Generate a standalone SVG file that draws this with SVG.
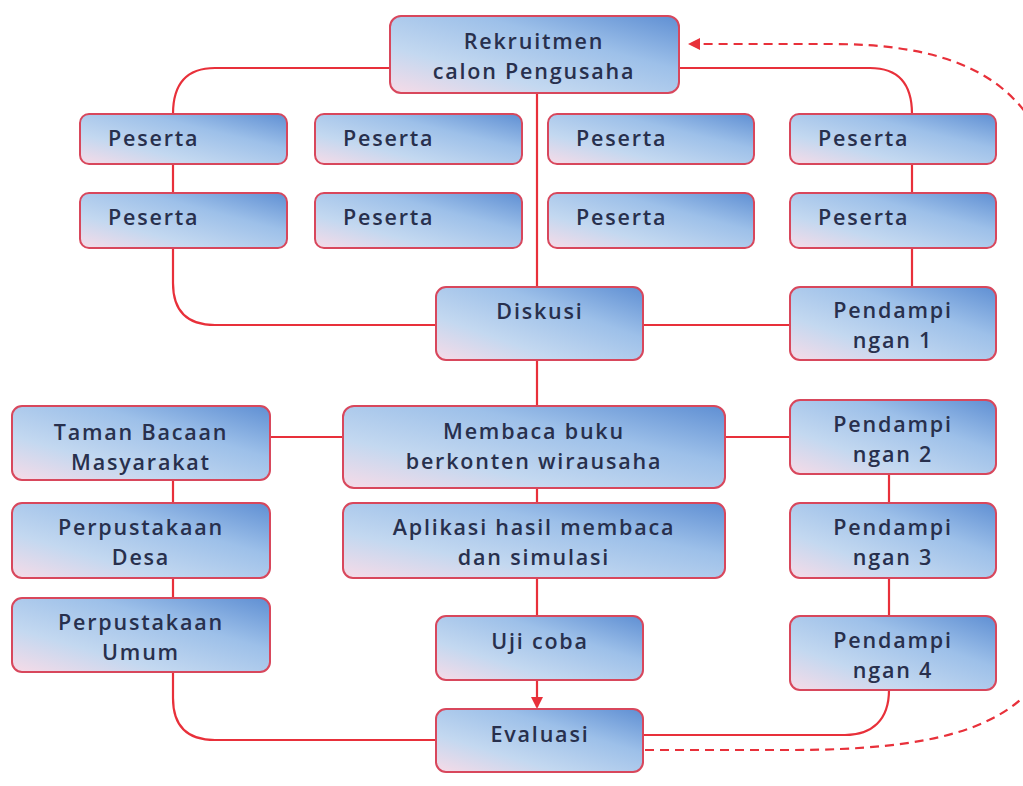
<svg xmlns="http://www.w3.org/2000/svg" width="1023" height="786" viewBox="0 0 1023 786">
<defs>
<linearGradient id="g" x1="0" y1="1" x2="1" y2="0">
<stop offset="0" stop-color="#f7dbe7"/>
<stop offset="0.3" stop-color="#c3d8f0"/>
<stop offset="0.65" stop-color="#9dc0e9"/>
<stop offset="1" stop-color="#5f8fd3"/>
</linearGradient>
<marker id="arr" markerWidth="12" markerHeight="12" refX="10" refY="6" orient="auto" markerUnits="userSpaceOnUse">
<path d="M0,0 L12,6 L0,12 Z" fill="#e8303a"/>
</marker>
</defs>
<style>
.n rect{fill:url(#g);stroke:#d8475c;stroke-width:2}
.n text{font-family:"Open Sans","Liberation Sans",sans-serif;font-weight:600;font-size:21.5px;fill:#28304d;letter-spacing:1.8px}
.c{text-anchor:middle}
.e path{fill:none;stroke:#e8303a;stroke-width:2.2}
.e .d{stroke-dasharray:9 6}
</style>
<rect width="1023" height="786" fill="#ffffff"/>
<g class="e" id="connectors">
<path d="M537 93 V287"/>
<path d="M537 360 V406"/>
<path d="M537 488 V503"/>
<path d="M537 578 V616"/>
<path d="M537 680 V707" marker-end="url(#arr)"/>
<path d="M390 68 H215 Q173 68 173 114"/>
<path d="M173 164 V193"/>
<path d="M173 248 V283 Q173 325 215 325 H436"/>
<path d="M679 68 H870 Q912 68 912 114"/>
<path d="M912 164 V193"/>
<path d="M912 248 V287"/>
<path d="M643 325 H790"/>
<path d="M270 437 H343"/>
<path d="M725 437 H790"/>
<path d="M173 480 V503"/>
<path d="M173 578 V598"/>
<path d="M173 672 V698 Q173 740 215 740 H436"/>
<path d="M889 474 V503"/>
<path d="M889 578 V616"/>
<path d="M889 690 C889 720 872 735 845 735 H643"/>
<path class="d" d="M645 750 H790 C930 750 1010 730 1045 670 L1050 160 C1020 70 940 44 830 44 H690" marker-end="url(#arr)"/>
</g>
<g class="n" id="rekruitmen"><rect x="390" y="16" width="289" height="77" rx="11"/><text class="c" x="534" y="49">Rekruitmen</text><text class="c" x="534" y="79">calon Pengusaha</text></g>
<g class="n" id="peserta1"><rect x="80" y="114" width="207" height="50" rx="9"/><text x="108" y="146">Peserta</text></g>
<g class="n" id="peserta2"><rect x="315" y="114" width="207" height="50" rx="9"/><text x="343" y="146">Peserta</text></g>
<g class="n" id="peserta3"><rect x="548" y="114" width="206" height="50" rx="9"/><text x="576" y="146">Peserta</text></g>
<g class="n" id="peserta4"><rect x="790" y="114" width="206" height="50" rx="9"/><text x="818" y="146">Peserta</text></g>
<g class="n" id="peserta5"><rect x="80" y="193" width="207" height="55" rx="9"/><text x="108" y="225">Peserta</text></g>
<g class="n" id="peserta6"><rect x="315" y="193" width="207" height="55" rx="9"/><text x="343" y="225">Peserta</text></g>
<g class="n" id="peserta7"><rect x="548" y="193" width="206" height="55" rx="9"/><text x="576" y="225">Peserta</text></g>
<g class="n" id="peserta8"><rect x="790" y="193" width="206" height="55" rx="9"/><text x="818" y="225">Peserta</text></g>
<g class="n" id="diskusi"><rect x="436" y="287" width="207" height="73" rx="10"/><text class="c" x="540" y="319">Diskusi</text></g>
<g class="n" id="pendampingan1"><rect x="790" y="287" width="206" height="73" rx="10"/><text class="c" x="893" y="318">Pendampi</text><text class="c" x="893" y="348">ngan 1</text></g>
<g class="n" id="taman"><rect x="12" y="406" width="258" height="74" rx="10"/><text class="c" x="141" y="440">Taman Bacaan</text><text class="c" x="141" y="470">Masyarakat</text></g>
<g class="n" id="membaca"><rect x="343" y="406" width="382" height="82" rx="11"/><text class="c" x="534" y="439">Membaca buku</text><text class="c" x="534" y="469">berkonten wirausaha</text></g>
<g class="n" id="pendampingan2"><rect x="790" y="400" width="206" height="74" rx="10"/><text class="c" x="893" y="432">Pendampi</text><text class="c" x="893" y="462">ngan 2</text></g>
<g class="n" id="perpusdesa"><rect x="12" y="503" width="258" height="75" rx="10"/><text class="c" x="141" y="535">Perpustakaan</text><text class="c" x="141" y="565">Desa</text></g>
<g class="n" id="aplikasi"><rect x="343" y="503" width="382" height="75" rx="10"/><text class="c" x="534" y="535">Aplikasi hasil membaca</text><text class="c" x="534" y="565">dan simulasi</text></g>
<g class="n" id="pendampingan3"><rect x="790" y="503" width="206" height="75" rx="10"/><text class="c" x="893" y="535">Pendampi</text><text class="c" x="893" y="565">ngan 3</text></g>
<g class="n" id="perpusumum"><rect x="12" y="598" width="258" height="74" rx="10"/><text class="c" x="141" y="630">Perpustakaan</text><text class="c" x="141" y="660">Umum</text></g>
<g class="n" id="ujicoba"><rect x="436" y="616" width="207" height="64" rx="10"/><text class="c" x="540" y="649">Uji coba</text></g>
<g class="n" id="pendampingan4"><rect x="790" y="616" width="206" height="74" rx="10"/><text class="c" x="893" y="648">Pendampi</text><text class="c" x="893" y="678">ngan 4</text></g>
<g class="n" id="evaluasi"><rect x="436" y="709" width="207" height="63" rx="10"/><text class="c" x="540" y="742">Evaluasi</text></g>
</svg>
